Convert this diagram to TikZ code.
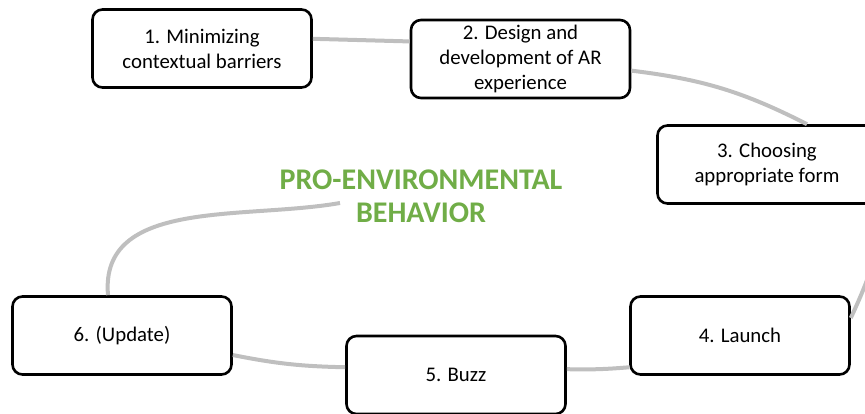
\documentclass[tikz,border=0pt]{standalone}
\usepackage{fontspec}
\setmainfont{Carlito}
\definecolor{linkgray}{RGB}{191,191,191}
\definecolor{titlegreen}{RGB}{112,173,71}

\begin{document}
\begin{tikzpicture}[x=1pt,y=1pt,
    stage/.style={draw, line width=2.6pt, rounded corners=10pt, fill=white,
      minimum width=219pt, minimum height=78pt, align=center,
      font=\fontsize{20.8}{25}\selectfont},
    link/.style={draw=linkgray, line width=4pt}]
  \useasboundingbox (0,0) rectangle (865,414);
  % the six stages
  \node[stage] (s1) at (202,365.5) {1. Minimizing\\contextual barriers};
  \node[stage] (s2) at (520.5,355) {2. Design and\\development of AR\\experience};
  \node[stage] (s3) at (767,249.5) {3. Choosing\\appropriate form};
  \node[stage] (s4) at (740,78.5) {4. Launch};
  \node[stage] (s5) at (456,39) {5. Buzz};
  \node[stage] (s6) at (122,78.5) {6. (Update)};
  \node[align=center, text=titlegreen, font=\fontsize{30}{33}\selectfont\bfseries]
    (goal) at (421,217.5) {PRO-ENVIRONMENTAL\\BEHAVIOR};
  \coordinate (hub) at (340,211);
  % the cycle
  \draw[link] (s1.5) -- (s2.171);
  \draw[link] (s2.-6) to[bend left=10] ([xshift=40pt]s3.north);
  \draw[link] (s3.east) to[out=-80, in=65] (s4.9);
  \draw[link] (s4.196) to[bend left=3] (s5.3);
  \draw[link] (s6.-10) to[bend right=5] (s5.176);
  \draw[link] ([xshift=-14pt]s6.north) to[out=95, in=190] (hub);
\end{tikzpicture}
\end{document}
